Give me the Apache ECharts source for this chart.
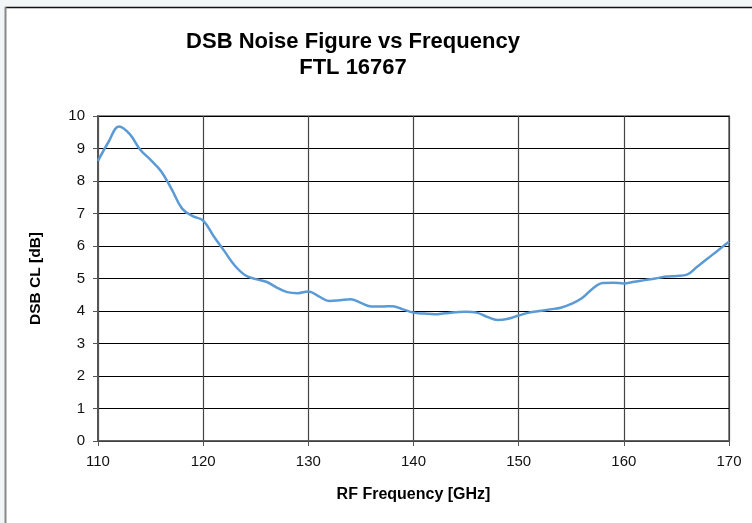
<!DOCTYPE html>
<html><head><meta charset="utf-8">
<script src="https://cdn.jsdelivr.net/npm/echarts@6/dist/echarts.min.js"></script>
<style>html,body{margin:0;padding:0;background:#f3f6f6}#c{width:752px;height:523px}</style>
</head><body><div id="c"></div>
<script>
const freqs = [110,111,112,113,114,115,116,117,118,119,120,121,122,123,124,125,126,127,128,129,130,131,132,133,134,135,136,137,138,139,140,141,142,143,144,145,146,147,148,149,150,151,152,153,154,155,156,157,158,159,160,161,162,163,164,165,166,167,168,169,170];
const dsbValues = [8.62,9.2,9.68,9.45,8.97,8.65,8.3,7.75,7.15,6.92,6.78,6.3,5.85,5.4,5.1,4.98,4.9,4.72,4.58,4.55,4.6,4.45,4.31,4.33,4.36,4.25,4.14,4.14,4.15,4.05,3.95,3.92,3.9,3.93,3.96,3.98,3.95,3.82,3.72,3.76,3.86,3.95,4.0,4.05,4.1,4.22,4.39,4.68,4.86,4.87,4.85,4.9,4.95,5.0,5.06,5.08,5.12,5.37,5.62,5.88,6.13];
const titleLines = ['DSB Noise Figure vs Frequency', 'FTL 16767'];
const xName = 'RF Frequency [GHz]';
const yName = 'DSB CL [dB]';

const chart = echarts.init(document.getElementById('c'), null, {renderer:'canvas'});
const font = 'Liberation Sans, Arial, sans-serif';
chart.setOption({
  backgroundColor: '#f3f6f6',
  animation: false,
  graphic: [
    {type:'rect', shape:{x:5,y:7,width:760,height:530}, style:{fill:'#ffffff'}, z:-10},
    {type:'line', shape:{x1:5,y1:7.5,x2:752,y2:7.5}, style:{stroke:'#111',lineWidth:1.5}, z:-9},
    {type:'line', shape:{x1:5.5,y1:7,x2:5.5,y2:523}, style:{stroke:'#888',lineWidth:2}, z:-9}
  ],
  title: {
    text: titleLines.join('\n'),
    left: 348, top: 24, textAlign: 'center',
    textStyle: {fontFamily: font, fontSize: 22, fontWeight: 'bold', color: '#000', lineHeight: 26}
  },
  grid: {left: 98, right: 23, top: 116, bottom: 82, show: true, borderColor: '#8c8c8c', borderWidth: 2, backgroundColor:'#fff'},
  xAxis: {
    type: 'value', min: 110, max: 170, interval: 10,
    name: xName, nameLocation: 'middle', nameGap: 46,
    nameTextStyle: {fontFamily: font, fontSize: 16, fontWeight: 'bold', color: '#000'},
    axisLine: {show: true, onZero:false, lineStyle: {color: '#555', width: 1.5}},
    axisTick: {show: true, length: 5, lineStyle: {color: '#555'}},
    axisLabel: {fontFamily: font, fontSize: 15, color: '#111', margin: 13},
    splitLine: {show: true, lineStyle: {color: '#444', width: 1.2}}
  },
  yAxis: {
    type: 'value', min: 0, max: 10, interval: 1,
    name: yName, nameLocation: 'middle', nameGap: 54, nameRotate: 90,
    nameTextStyle: {fontFamily: font, fontSize: 15.5, fontWeight: 'bold', color: '#000'},
    axisLine: {show: true, lineStyle: {color: '#555', width: 2}},
    axisTick: {show: true, length: 5, lineStyle: {color: '#555'}},
    axisLabel: {fontFamily: font, fontSize: 15, color: '#111', margin: 13},
    splitLine: {show: true, lineStyle: {color: '#000', width: 1}}
  },
  series: [{
    type: 'line', data: freqs.map((f,i)=>[f, dsbValues[i]]),
    smooth: 0.4, showSymbol: false, clip: true,
    lineStyle: {color: '#5b9bd5', width: 2.5}
  }]
});
</script></body></html>
